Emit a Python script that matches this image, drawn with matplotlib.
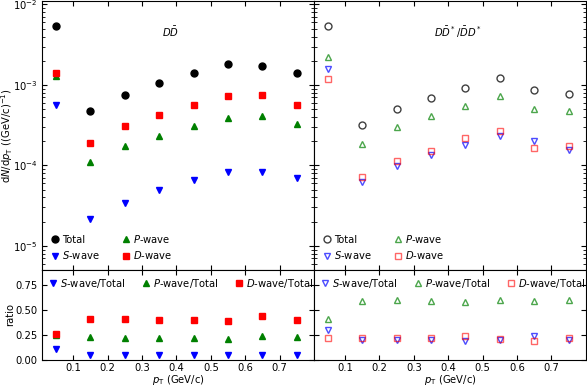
import matplotlib.pyplot as plt
import numpy as np

# pT bin centres (GeV/c)
pt = [0.05, 0.15, 0.25, 0.35, 0.45, 0.55, 0.65, 0.75]

# D Dbar spectra
dd_total = [5.4e-3, 4.7e-4, 7.6e-4, 1.05e-3, 1.4e-3, 1.83e-3, 1.73e-3, 1.4e-3]
dd_s = [5.7e-4, 2.18e-5, 3.37e-5, 5.0e-5, 6.6e-5, 8.2e-5, 8.2e-5, 7.0e-5]
dd_p = [1.31e-3, 1.09e-4, 1.72e-4, 2.34e-4, 3.05e-4, 3.87e-4, 4.14e-4, 3.3e-4]
dd_d = [1.4e-3, 1.89e-4, 3.1e-4, 4.2e-4, 5.6e-4, 7.2e-4, 7.6e-4, 5.7e-4]

# D Dbar* / Dbar D* spectra
dds_total = [5.4e-3, 3.17e-4, 5.06e-4, 6.86e-4, 9.2e-4, 1.22e-3, 8.6e-4, 7.8e-4]
dds_s = [1.59e-3, 6.3e-5, 9.8e-5, 1.36e-4, 1.77e-4, 2.34e-4, 2.0e-4, 1.57e-4]
dds_p = [2.2e-3, 1.87e-4, 3.0e-4, 4.06e-4, 5.4e-4, 7.3e-4, 5.0e-4, 4.7e-4]
dds_d = [1.2e-3, 7.2e-5, 1.12e-4, 1.53e-4, 2.18e-4, 2.64e-4, 1.64e-4, 1.75e-4]

# ratios to total
dd_s_ratio = [0.105, 0.046, 0.044, 0.046, 0.046, 0.045, 0.046, 0.047]
dd_p_ratio = [0.245, 0.233, 0.222, 0.222, 0.22, 0.208, 0.24, 0.232]
dd_d_ratio = [0.26, 0.405, 0.405, 0.398, 0.398, 0.392, 0.443, 0.40]
dds_s_ratio = [0.295, 0.20, 0.20, 0.20, 0.19, 0.195, 0.235, 0.20]
dds_p_ratio = [0.41, 0.588, 0.595, 0.588, 0.58, 0.60, 0.588, 0.595]
dds_d_ratio = [0.223, 0.218, 0.218, 0.218, 0.24, 0.21, 0.185, 0.22]

plt.rcParams['font.size'] = 7.2
plt.rcParams['mathtext.fontset'] = 'dejavusans'

fig, axes = plt.subplots(2, 2, figsize=(5.87, 3.86), dpi=100, sharex=True,
                         gridspec_kw={'height_ratios': [3, 1]})
fig.subplots_adjust(left=0.072, right=0.998, top=0.997, bottom=0.068,
                    hspace=0, wspace=0)

ms = 5
lab_s = r'$S$-wave'
lab_p = r'$P$-wave'
lab_d = r'$D$-wave'

# top left: filled markers
ax = axes[0, 0]
ax.plot(pt, dd_total, 'o', color='black', ms=ms, ls='none', label='Total')
ax.plot(pt, dd_s, 'v', color='blue', ms=ms, ls='none', label=lab_s)
ax.plot(pt, dd_p, '^', color='green', ms=ms, ls='none', label=lab_p)
ax.plot(pt, dd_d, 's', color='red', ms=ms, ls='none', label=lab_d)
ax.text(0.44, 0.885, r'$D\bar{D}$', transform=ax.transAxes, ha='left', va='center')

# top right: open markers
ax = axes[0, 1]
ax.plot(pt, dds_total, 'o', mfc='none', mec='black', alpha=0.75, ms=ms, ls='none', label='Total')
ax.plot(pt, dds_s, 'v', mfc='none', mec='blue', alpha=0.7, ms=ms, ls='none', label=lab_s)
ax.plot(pt, dds_p, '^', mfc='none', mec='green', alpha=0.7, ms=ms, ls='none', label=lab_p)
ax.plot(pt, dds_d, 's', mfc='none', mec='red', alpha=0.6, ms=ms, ls='none', label=lab_d)
ax.text(0.44, 0.885, r'$D\bar{D}^*/\bar{D}D^*$', transform=ax.transAxes, ha='left', va='center')

for ax in axes[0]:
    ax.set_yscale('log')
    ax.set_ylim(5e-6, 1.1e-2)
    ax.legend(loc='lower left', ncol=2, frameon=False, handlelength=0.8,
              handletextpad=0.3, columnspacing=2.2, labelspacing=0.45,
              borderaxespad=0.5)

# bottom left: ratios
ax = axes[1, 0]
ax.plot(pt, dd_s_ratio, 'v', color='blue', ms=ms, ls='none', label=r'$S$-wave/Total')
ax.plot(pt, dd_p_ratio, '^', color='green', ms=ms, ls='none', label=r'$P$-wave/Total')
ax.plot(pt, dd_d_ratio, 's', color='red', ms=ms, ls='none', label=r'$D$-wave/Total')

ax = axes[1, 1]
ax.plot(pt, dds_s_ratio, 'v', mfc='none', mec='blue', alpha=0.7, ms=ms, ls='none', label=r'$S$-wave/Total')
ax.plot(pt, dds_p_ratio, '^', mfc='none', mec='green', alpha=0.7, ms=ms, ls='none', label=r'$P$-wave/Total')
ax.plot(pt, dds_d_ratio, 's', mfc='none', mec='red', alpha=0.6, ms=ms, ls='none', label=r'$D$-wave/Total')

for ax in axes[1]:
    ax.set_ylim(0, 0.9)
    ax.set_yticks([0, 0.25, 0.5, 0.75])
    ax.set_xlabel(r'$p_{\mathrm{T}}$ (GeV/c)', labelpad=-0.5)
    ax.legend(loc='upper left', ncol=3, frameon=False, handlelength=0.8,
              handletextpad=0.3, columnspacing=1.65, borderaxespad=0.25)

for ax in axes.flat:
    ax.set_xlim(0.01, 0.8)
    ax.tick_params(which='both', direction='in', top=True, right=True)
    ax.tick_params(axis='x', pad=2.5)
    ax.set_xticks([0.1, 0.2, 0.3, 0.4, 0.5, 0.6, 0.7])

for ax in axes[:, 1]:
    ax.tick_params(labelleft=False)

axes[0, 0].set_ylabel(r'd$N$/d$p_{\mathrm{T}}$ ((GeV/c)$^{-1}$)')
axes[1, 0].set_ylabel('ratio')
axes[1, 0].yaxis.set_label_coords(-0.1, 0.5)
axes[0, 0].yaxis.set_label_coords(-0.1, 0.5)
axes[1, 0].set_yticklabels(['0.00', '0.25', '0.50', '0.75'])

fig.savefig('out.png', dpi=100)
